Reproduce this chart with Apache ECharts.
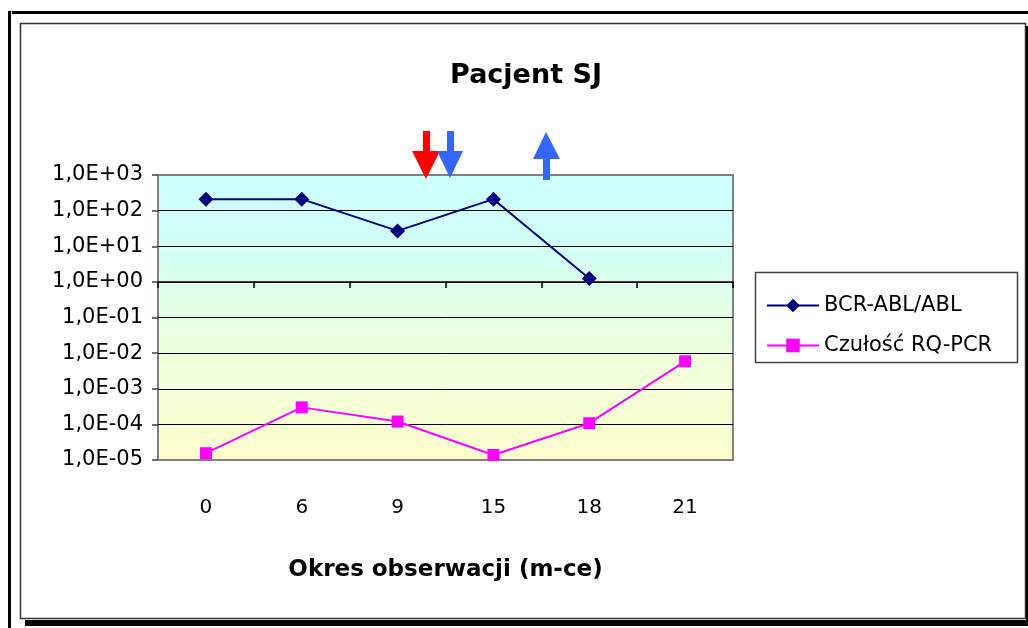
<!DOCTYPE html>
<html>
<head>
<meta charset="utf-8">
<script src="https://cdn.jsdelivr.net/npm/echarts@6/dist/echarts.min.js"></script>
<style>
html,body{margin:0;padding:0;background:#fff;}
#chart{width:1028px;height:628px;}
</style>
</head>
<body>
<div id="chart"></div>
<script>
const categories = ['0', '6', '9', '15', '18', '21'];
const bcrAblValues = [210, 210, 27, 210, 1.25, null];
const sensitivityValues = [1.55e-5, 3.0e-4, 1.2e-4, 1.38e-5, 1.08e-4, 5.9e-3];
const seriesNames = ['BCR-ABL/ABL', 'Czułość RQ-PCR'];
const chartTitle = 'Pacjent SJ';
const xAxisTitle = 'Okres obserwacji (m-ce)';

const FONT = "'Comic Sans MS', 'DejaVu Sans', sans-serif";

function expLabel(v) {
  const e = Math.round(Math.log10(v));
  const a = Math.abs(e);
  return '1,0E' + (e >= 0 ? '+' : '-') + (a < 10 ? '0' : '') + a;
}

const gridTop = 175, gridBottomY = 460;
const gridHeight = gridBottomY - gridTop;
// y=1 lies 3 decades below the top of an 8-decade axis
const crossOffset = -gridHeight * 3 / 8;

const chart = echarts.init(document.getElementById('chart'), null, {renderer: 'canvas'});
chart.setOption({
  animation: false,
  backgroundColor: '#ffffff',
  title: {
    text: chartTitle,
    left: 521,
    top: 57,
    textAlign: 'center',
    textStyle: {fontFamily: FONT, fontSize: 27, fontWeight: 'bold', color: '#000'}
  },
  grid: {
    left: 158, right: 1028 - 733, top: gridTop, bottom: 628 - gridBottomY,
    show: true,
    borderColor: '#808080',
    borderWidth: 2,
    backgroundColor: {
      type: 'linear', x: 0, y: 0, x2: 0, y2: 1,
      colorStops: [
        {offset: 0, color: '#CCFFFF'},
        {offset: 0.25, color: '#CFFFF6'},
        {offset: 0.55, color: '#EAFFE0'},
        {offset: 1, color: '#FFFFCC'}
      ]
    }
  },
  legend: {
    orient: 'vertical',
    left: 761,
    top: 287,
    itemWidth: 52,
    itemHeight: 17,
    itemGap: 13,
    textStyle: {fontFamily: FONT, fontSize: 21, color: '#000', lineHeight: 27},
    data: seriesNames
  },
  xAxis: [
    {
      type: 'category',
      data: categories,
      boundaryGap: true,
      position: 'bottom',
      axisLine: {show: false},
      axisTick: {show: false},
      axisLabel: {fontFamily: FONT, fontSize: 20, color: '#000', margin: 38},
      name: xAxisTitle,
      nameLocation: 'middle',
      nameGap: 99,
      nameTextStyle: {fontFamily: FONT, fontSize: 23, fontWeight: 'bold', color: '#000'}
    },
    {
      type: 'category',
      data: categories,
      boundaryGap: true,
      position: 'top',
      offset: crossOffset,
      axisLine: {show: true, lineStyle: {color: '#000', width: 1.5}},
      axisTick: {show: true, inside: true, length: 6, lineStyle: {color: '#000', width: 1.5}},
      axisLabel: {show: false},
      splitLine: {show: false}
    }
  ],
  yAxis: {
    type: 'log',
    logBase: 10,
    min: 1e-5,
    max: 1e3,
    interval: 1,
    axisLine: {show: false},
    axisTick: {show: true, length: 6, lineStyle: {color: '#404040', width: 1.5}},
    axisLabel: {
      fontFamily: FONT, fontSize: 21, color: '#000', margin: 15,
      formatter: expLabel
    },
    splitLine: {
      show: true,
      lineStyle: {
        color: ['#808080', '#000', '#000', '#000', '#000', '#000', '#000', '#000', '#808080'],
        width: 1
      }
    }
  },
  series: [
    {
      name: seriesNames[0],
      type: 'line',
      data: bcrAblValues,
      xAxisIndex: 0,
      connectNulls: false,
      symbol: 'diamond',
      symbolSize: 15,
      lineStyle: {color: '#000080', width: 2},
      itemStyle: {color: '#000080'},
      z: 5
    },
    {
      name: seriesNames[1],
      type: 'line',
      data: sensitivityValues,
      xAxisIndex: 0,
      symbol: 'rect',
      symbolSize: 12,
      lineStyle: {color: '#FF00FF', width: 2},
      itemStyle: {color: '#FF00FF'},
      z: 5
    }
  ],
  graphic: [
    // outer black frame lines
    {type: 'rect', shape: {x: 12, y: 11, width: 1016, height: 3}, style: {fill: '#000'}, silent: true},
    {type: 'rect', shape: {x: 8, y: 11, width: 3, height: 617}, style: {fill: '#000'}, silent: true},
    // inner frame
    {type: 'rect', shape: {x: 20.5, y: 23.5, width: 1005, height: 595}, style: {fill: 'none', stroke: '#333', lineWidth: 1.5}, silent: true},
    // shadow
    {type: 'rect', shape: {x: 25, y: 620, width: 1003, height: 6}, style: {fill: '#000'}, silent: true},
    {type: 'rect', shape: {x: 1026, y: 26, width: 2, height: 600}, style: {fill: '#000'}, silent: true},
    // legend box
    {type: 'rect', shape: {x: 755.5, y: 272.5, width: 262, height: 90}, style: {fill: 'none', stroke: '#404040', lineWidth: 1.5}, silent: true},
    // red down arrow
    {type: 'rect', z: 100, shape: {x: 423, y: 131, width: 7, height: 22}, style: {fill: '#FF0000'}, silent: true},
    {type: 'polygon', z: 100, shape: {points: [[412, 151], [440, 151], [426, 179]]}, style: {fill: '#FF0000'}, silent: true},
    // blue down arrow
    {type: 'rect', z: 101, shape: {x: 447, y: 131, width: 7, height: 22}, style: {fill: '#3366FF'}, silent: true},
    {type: 'polygon', z: 101, shape: {points: [[437, 151], [463, 151], [450, 178]]}, style: {fill: '#3366FF'}, silent: true},
    // blue up arrow
    {type: 'polygon', z: 101, shape: {points: [[533, 159], [560, 159], [546, 132]]}, style: {fill: '#3366FF'}, silent: true},
    {type: 'rect', z: 101, shape: {x: 543, y: 157, width: 7, height: 23}, style: {fill: '#3366FF'}, silent: true}
  ]
});
</script>
</body>
</html>
